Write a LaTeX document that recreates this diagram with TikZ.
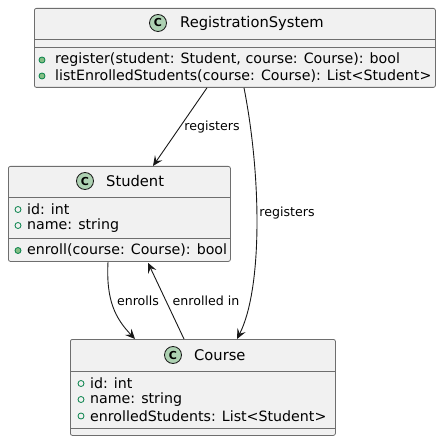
\documentclass[tikz,border=0pt]{standalone}
\usepackage{fontspec}
\setmainfont{DejaVu Sans}
\usetikzlibrary{arrows.meta}
\definecolor{boxfill}{HTML}{F1F1F1}
\definecolor{boxline}{HTML}{6E6E6E}
\definecolor{cfill}{HTML}{ADD1B2}
\definecolor{visline}{HTML}{038048}
\definecolor{visfill}{HTML}{84BE84}
\definecolor{edge}{HTML}{181818}
\tikzset{
  classbox/.style={draw=boxline, fill=boxfill, line width=0.8bp, rounded corners=2bp, inner sep=0pt, anchor=north west},
  sepline/.style={draw=boxline, line width=0.8bp},
  cicon/.style={circle, draw=edge, fill=cfill, line width=0.8bp, minimum size=17bp, inner sep=0pt, font=\fontsize{11bp}{12bp}\selectfont\bfseries},
  titletext/.style={anchor=west, inner sep=0pt, font=\fontsize{14.7bp}{16bp}\selectfont},
  membertext/.style={anchor=west, inner sep=0pt, font=\fontsize{14.2bp}{15bp}\selectfont},
  attricon/.style={circle, draw=visline, line width=0.8bp, minimum size=6bp, inner sep=0pt},
  methicon/.style={circle, draw=visline, fill=visfill, line width=0.8bp, minimum size=6bp, inner sep=0pt},
  edgelabel/.style={inner sep=0pt, font=\fontsize{12.6bp}{13bp}\selectfont},
  arr/.style={draw=edge, line width=0.9bp, -{Stealth[length=10bp,width=9bp,inset=4bp]}}
}
\begin{document}
\begin{tikzpicture}[x=1bp,y=-1bp]
\useasboundingbox (0,0) rectangle (441,441);
% RegistrationSystem
\node[classbox, minimum width=401bp, minimum height=79bp] (rs) at (34,8) {};
\draw[sepline] (34,39.5) -- (435,39.5);
\draw[sepline] (34,47.5) -- (435,47.5);
\node[cicon] (rsc) at (158,23) {C};
\node[titletext] (rst) at (180,23) {RegistrationSystem};
\node[methicon] (rsm1i) at (42,60) {};
\node[membertext] (rsm1) at (55,60) {register(student: Student, course: Course): bool};
\node[methicon] (rsm2i) at (42,76) {};
\node[membertext] (rsm2) at (55,76) {listEnrolledStudents(course: Course): List<Student>};
% Student
\node[classbox, minimum width=222bp, minimum height=95bp] (st) at (8,166) {};
\draw[sepline] (8,197.5) -- (230,197.5);
\draw[sepline] (8,238) -- (230,238);
\node[cicon] (stc) at (85,181) {C};
\node[titletext] (stt) at (106,181) {Student};
\node[attricon] (sta1i) at (18,209.5) {};
\node[membertext] (sta1) at (27,209.5) {id: int};
\node[attricon] (sta2i) at (18,225.5) {};
\node[membertext] (sta2) at (27,225.5) {name: string};
\node[methicon] (stm1i) at (18,250.5) {};
\node[membertext] (stm1) at (27,250.5) {enroll(course: Course): bool};
% Course
\node[classbox, minimum width=265bp, minimum height=96bp] (co) at (70,339) {};
\draw[sepline] (70,371.5) -- (335,371.5);
\draw[sepline] (70,428) -- (335,428);
\node[cicon] (coc) at (173,355) {C};
\node[titletext] (cot) at (194,355) {Course};
\node[attricon] (coa1i) at (81,383.5) {};
\node[membertext] (coa1) at (90,383.5) {id: int};
\node[attricon] (coa2i) at (81,399.5) {};
\node[membertext] (coa2) at (90,399.5) {name: string};
\node[attricon] (coa3i) at (81,416) {};
\node[membertext] (coa3) at (90,416) {enrolledStudents: List<Student>};
% connectors
\draw[arr] ([xshift=173bp]rs.south west) -- ([xshift=145bp]st.north west);
\draw[arr] ([xshift=210bp]rs.south west) .. controls (262,180) and (262,290) .. ([xshift=167bp]co.north west);
\draw[arr] ([xshift=100bp]st.south west) .. controls (106,300) and (115,318) .. ([xshift=65bp]co.north west);
\draw[arr] ([xshift=114bp]co.north west) -- ([xshift=140bp,yshift=-1bp]st.south west);
% labels
\node[edgelabel] (l1) at (212,127) {registers};
\node[edgelabel] (l2) at (287,213.5) {registers};
\node[edgelabel] (l3) at (138,301) {enrolls};
\node[edgelabel] (l4) at (206,301) {enrolled in};
\end{tikzpicture}
\end{document}
